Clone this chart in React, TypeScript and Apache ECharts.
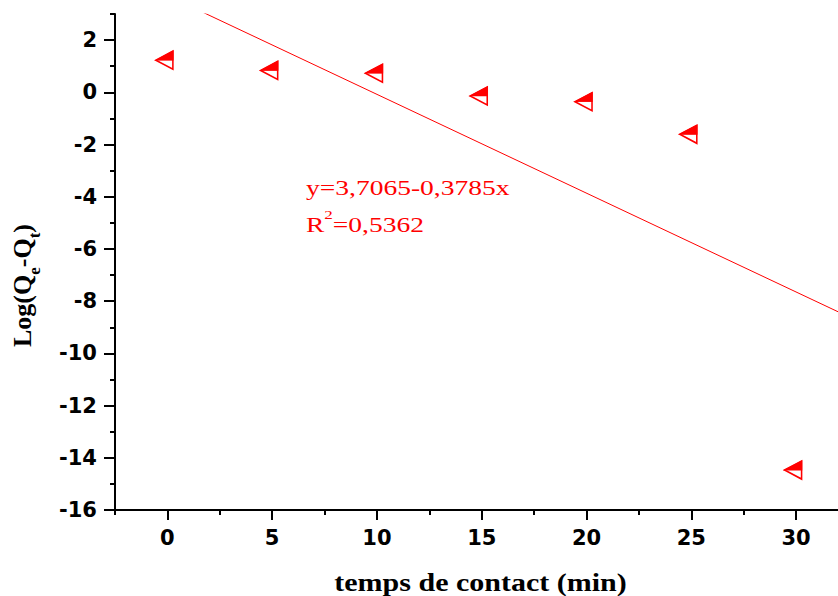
import React, { useEffect, useRef } from "react";
import * as echarts from "echarts";

// ---- data ----
const contactTimes = [0, 5, 10, 15, 20, 25, 30];
const logQeQt = [1.23, 0.84, 0.73, -0.14, -0.36, -1.61, -14.47];
const fitIntercept = 3.7065;
const fitSlope = -0.3785;
const fitR2Text = "0,5362";
const equationText = "y=3,7065-0,3785x";

const xMin = -2.5;
const xMax = 32;
const yMin = -16;
const yMax = 3;
const xMajorTicks = [0, 5, 10, 15, 20, 25, 30];
const xMinorTicks = [-2.5, 2.5, 7.5, 12.5, 17.5, 22.5, 27.5];
const yMajorTicks = [-16, -14, -12, -10, -8, -6, -4, -2, 0, 2];
const yMinorTicks = [-15, -13, -11, -9, -7, -5, -3, -1, 1, 3];

const xTitle = "temps de contact (min)";

const RED = "#ff0000";
const SERIF = "'Liberation Serif', 'Times New Roman', serif";
const SANS = "'DejaVu Sans', sans-serif";

export default function App() {
  const ref = useRef<HTMLDivElement>(null);

  useEffect(() => {
    if (!ref.current) return;
    const chart = echarts.init(ref.current, null, { renderer: "svg" });

    const points = contactTimes.map((x, i) => [x, logQeQt[i]]);
    const fitLine = [xMin, xMax].map((x) => [x, fitIntercept + fitSlope * x]);

    const axisLineStyle = { color: "#000", width: 2 };
    const labelStyle = {
      color: "#000",
      fontSize: 21,
      fontWeight: "bold" as const,
      fontFamily: SANS,
    };

    const option: any = {
      animation: false,
      backgroundColor: "#fff",
      grid: { left: 115, right: 0, top: 14, bottom: 86, containLabel: false },
      xAxis: [
        {
          type: "value",
          min: xMin,
          max: xMax,
          position: "bottom",
          axisLine: { show: true, onZero: false, lineStyle: axisLineStyle },
          axisTick: {
            show: true,
            length: 10,
            customValues: xMajorTicks,
            lineStyle: axisLineStyle,
          },
          axisLabel: { ...labelStyle, margin: 17, customValues: xMajorTicks },
          splitLine: { show: false },
        },
        {
          type: "value",
          min: xMin,
          max: xMax,
          position: "bottom",
          axisLine: { show: false, onZero: false },
          axisTick: {
            show: true,
            length: 5,
            customValues: xMinorTicks,
            lineStyle: axisLineStyle,
          },
          axisLabel: { show: false },
          splitLine: { show: false },
        },
      ],
      yAxis: [
        {
          type: "value",
          min: yMin,
          max: yMax,
          position: "left",
          axisLine: { show: true, onZero: false, lineStyle: axisLineStyle },
          axisTick: {
            show: true,
            length: 11,
            customValues: yMajorTicks,
            lineStyle: axisLineStyle,
          },
          axisLabel: { ...labelStyle, margin: 18, customValues: yMajorTicks },
          splitLine: { show: false },
        },
        {
          type: "value",
          min: yMin,
          max: yMax,
          position: "left",
          axisLine: { show: false, onZero: false },
          axisTick: {
            show: true,
            length: 5,
            customValues: yMinorTicks,
            lineStyle: axisLineStyle,
          },
          axisLabel: { show: false },
          splitLine: { show: false },
        },
      ],
      series: [
        {
          type: "line",
          data: fitLine,
          xAxisIndex: 0,
          yAxisIndex: 0,
          showSymbol: false,
          symbol: "none",
          clip: true,
          lineStyle: { color: RED, width: 1 },
          silent: true,
          z: 2,
        },
        {
          type: "scatter",
          data: points,
          xAxisIndex: 0,
          yAxisIndex: 0,
          symbol: "path://M0,5 L10,0 L10,10 Z",
          symbolSize: [17, 18],
          symbolOffset: [-3, 0],
          itemStyle: { color: "#fff", borderColor: RED, borderWidth: 1.6, opacity: 1 },
          z: 3,
        },
        {
          type: "scatter",
          data: points,
          xAxisIndex: 0,
          yAxisIndex: 0,
          symbol: "path://M0,5 L10,0 L10,5 Z",
          symbolSize: [17, 9],
          symbolOffset: [-3, -4.5],
          itemStyle: { color: RED, borderColor: RED, borderWidth: 1, opacity: 1 },
          z: 4,
        },
      ],
      graphic: [
        // fit equation
        {
          type: "group",
          x: 306,
          y: 0,
          scaleX: 1.31,
          children: [
            {
              type: "text",
              x: 0,
              y: 175.7,
              style: {
                text: equationText,
                fill: RED,
                fontSize: 21,
                fontFamily: SERIF,
                lineHeight: 24,
                verticalAlign: "top",
                align: "left",
              },
            },
            {
              type: "text",
              x: 0,
              y: 208.6,
              style: {
                text: "{n|R}{p|2}{n|=" + fitR2Text + "}",
                fill: RED,
                align: "left",
                verticalAlign: "top",
                rich: {
                  n: {
                    fontSize: 21,
                    fontFamily: SERIF,
                    fill: RED,
                    lineHeight: 27,
                    verticalAlign: "bottom",
                  },
                  p: {
                    fontSize: 13,
                    fontFamily: SERIF,
                    fill: RED,
                    lineHeight: 27,
                    verticalAlign: "top",
                  },
                },
              },
            },
          ],
        },
        // x axis title
        {
          type: "group",
          x: 480.5,
          y: 0,
          scaleX: 1.2,
          children: [
            {
              type: "text",
              x: 0,
              y: 568.5,
              style: {
                text: xTitle,
                fill: "#000",
                fontSize: 25,
                fontWeight: "bold",
                fontFamily: SERIF,
                lineHeight: 28,
                verticalAlign: "top",
                align: "center",
              },
            },
          ],
        },
        // y axis title
        {
          type: "group",
          x: 9,
          y: 347,
          rotation: Math.PI / 2,
          children: [
            {
              type: "text",
              x: 0,
              y: 0,
              style: {
                text: "{m|Log(Q}{s|e}{m|-Q}{s|t}{m|)}",
                align: "left",
                verticalAlign: "top",
                rich: {
                  m: {
                    fontSize: 26,
                    fontWeight: "bold",
                    fontFamily: SERIF,
                    fill: "#000",
                    lineHeight: 34,
                    verticalAlign: "top",
                  },
                  s: {
                    fontSize: 17,
                    fontWeight: "bold",
                    fontFamily: SERIF,
                    fill: "#000",
                    lineHeight: 34,
                    verticalAlign: "bottom",
                  },
                },
              },
            },
          ],
        },
      ],
    };

    chart.setOption(option);
    return () => chart.dispose();
  }, []);

  return (
    <div
      ref={ref}
      style={{ position: "fixed", left: 0, top: 0, width: 838, height: 596, background: "#fff" }}
    />
  );
}
